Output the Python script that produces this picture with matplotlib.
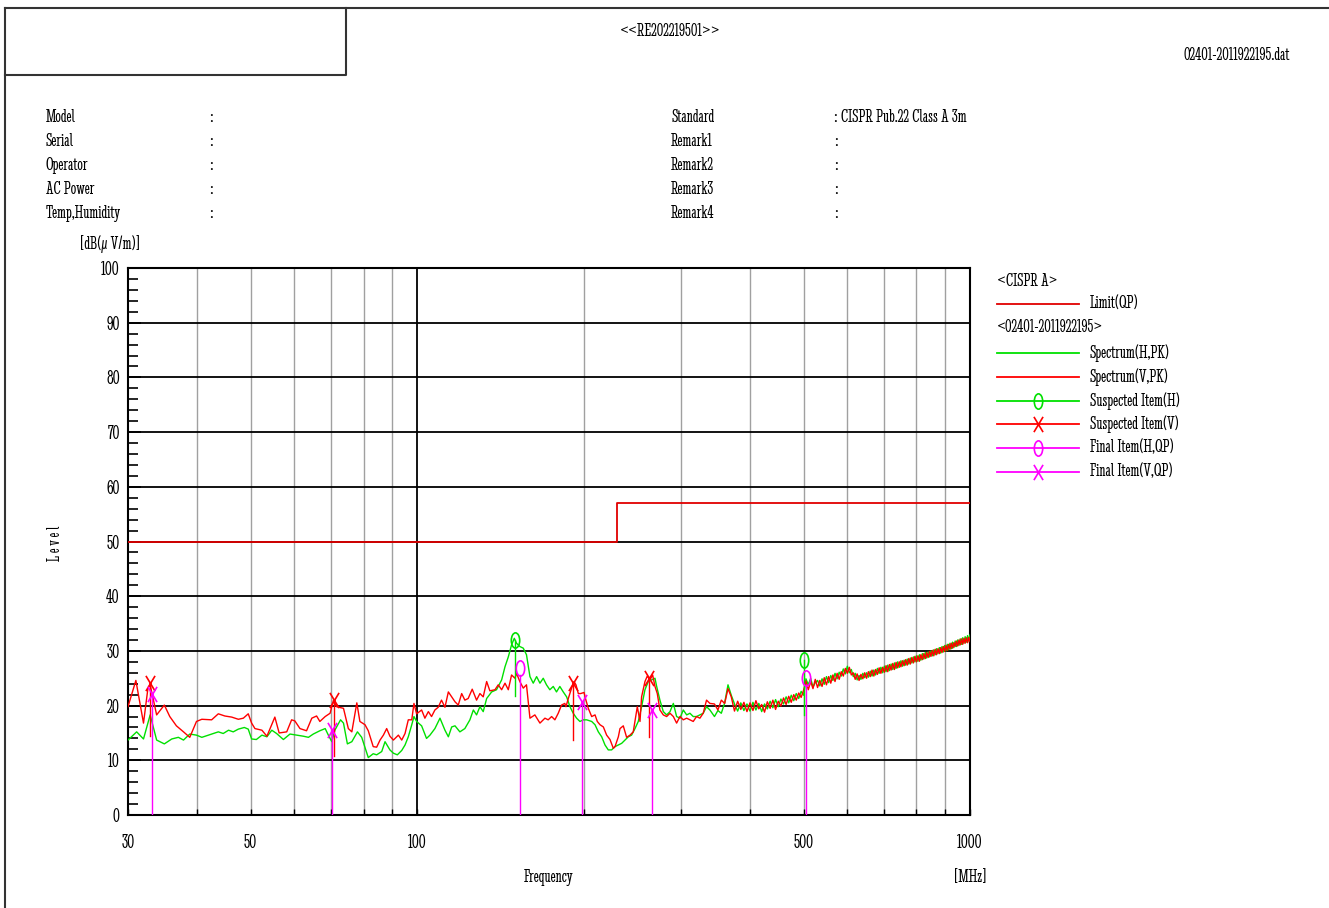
import matplotlib
matplotlib.use('Agg')
import matplotlib.pyplot as plt
from matplotlib.lines import Line2D
from matplotlib.path import Path
from matplotlib.transforms import Affine2D

FONT = ['Stint Ultra Condensed', 'PT Sans Narrow', 'DejaVu Sans']
plt.rcParams['font.family'] = FONT

W, H = 1329, 908

# ---- data ----
limit_freq = [30, 230, 230, 1000]
limit_level = [50, 50, 57, 57]

# below 340 MHz the two sweeps have their own sample points
v_lo_freq = [30.0, 31.0, 32.0, 32.6, 32.9, 33.8, 34.9, 35.7, 36.7, 37.8, 38.8, 39.9, 40.8, 42.5, 43.7,
             44.9, 46.2, 47.5, 48.5, 49.5, 50.2, 50.9, 52.4, 53.5, 55.3, 56.3, 58.1, 59.3, 60.1, 61.4,
             63.1, 64.5, 65.8, 66.7, 68.2, 69.6, 70.1, 70.6, 71.5, 73.6, 75.1, 76.2, 77.8, 78.8, 80.5,
             81.6, 83.3, 84.5, 85.7, 86.9, 88.1, 89.3, 90.6, 92.5, 93.8, 95.1, 96.4, 97.8, 98.7, 99.8,
             101.9, 103.3, 104.8, 106.2, 107.7, 109.2, 110.7, 112.3, 113.9, 115.5, 117.1, 118.7, 120.4,
             122.0, 123.7, 125.8, 128.1, 129.9, 131.7, 133.6, 135.4, 138.3, 140.2, 142.2, 144.2, 146.2,
             148.2, 150.3, 151.3, 153.4, 155.6, 157.7, 160.0, 163.3, 166.8, 170.3, 172.6, 175.1, 177.5,
             180.0, 182.5, 185.0, 185.9, 187.7, 190.3, 192.2, 193.8, 195.7, 197.6, 200.4, 202.0, 204.0,
             206.9, 209.8, 211.8, 214.2, 217.2, 220.2, 223.3, 226.4, 228.0, 231.2, 232.8, 236.0, 239.3,
             242.7, 246.0, 250.2, 253.0, 254.7, 258.3, 260.8, 263.7, 266.7, 269.3, 271.9, 274.9, 278.8,
             282.7, 286.7, 290.7, 294.7, 298.8, 303.0, 307.3, 311.5, 315.8, 320.2, 324.7, 329.2, 333.8,
             338.5]
v_lo_level = [19.8, 24.6, 16.8, 23.2, 23.8, 18.3, 20.1, 18.0, 16.3, 15.2, 14.2, 17.1, 17.5, 17.4, 18.5,
              18.1, 17.9, 17.5, 17.7, 18.5, 16.8, 15.8, 15.5, 14.4, 17.9, 15.0, 15.2, 17.4, 17.2, 15.8,
              15.4, 17.7, 18.1, 17.1, 18.0, 18.6, 19.8, 21.0, 19.8, 19.5, 15.8, 15.2, 20.5, 17.1, 16.5,
              15.4, 12.5, 12.4, 13.7, 14.6, 15.8, 14.4, 13.7, 14.6, 13.7, 14.9, 17.4, 17.4, 20.4, 18.5,
              19.2, 17.7, 18.9, 18.0, 19.2, 19.7, 21.0, 19.7, 22.5, 21.6, 20.7, 20.1, 22.2,
              21.0, 21.3, 23.0, 21.0, 22.2, 21.6, 24.4, 22.7, 22.9, 23.8, 22.9, 24.1, 22.9,
              25.6, 25.0, 25.9, 24.4, 23.2, 23.8, 17.7, 18.3, 16.8, 17.7, 17.4, 18.0, 17.4,
              18.6, 20.1, 20.4, 19.8, 21.3, 23.2, 24.4, 23.8, 22.2, 22.2, 22.4, 21.0, 19.5,
              18.0, 18.3, 17.1, 16.5, 16.1, 14.6, 13.8, 12.2, 12.5, 14.3, 15.8, 16.3, 14.2,
              14.6, 15.2, 19.8, 17.1, 21.6, 24.4, 25.4, 24.7, 25.6, 23.5, 22.2, 19.2, 18.3,
              18.0, 18.6, 18.0, 16.8, 18.0, 17.4, 17.7, 17.4, 17.1, 18.0, 17.7, 18.6, 21.0,
              20.4]

h_lo_freq = [30.0, 31.1, 32.0, 32.9, 33.8, 34.9, 36.0, 37.0, 37.8, 38.8, 39.9, 40.8, 42.5, 43.7, 44.6,
             45.6, 46.5, 47.5, 48.7, 49.5, 50.2, 51.2, 52.4, 53.5, 54.6, 55.7, 57.3, 58.9, 60.6, 62.3,
             63.6, 64.9, 66.7, 68.2, 69.1, 70.1, 71.0, 72.7, 73.6, 74.8, 76.2, 78.0, 79.4, 81.6, 83.3,
             84.5, 86.3, 87.5, 89.3, 90.6, 92.1, 93.8, 95.1, 96.4, 97.8, 98.7, 99.8, 101.9, 104.0, 105.5,
             107.7, 110.0, 112.3, 113.9, 115.5, 117.1, 119.5, 122.0, 124.6, 126.4, 128.1, 129.9, 131.7,
             133.6, 136.4, 139.2, 142.2, 144.2, 146.2, 148.2, 149.9, 151.3, 153.4, 155.6, 157.7, 160.0,
             162.2, 164.5, 166.8, 169.1, 171.4, 173.8, 176.3, 178.7, 181.2, 183.8, 186.4, 189.0, 191.6,
             194.3, 197.0, 199.8, 202.6, 206.9, 209.8, 212.7, 215.7, 218.7, 221.7, 224.8, 228.0, 231.2,
             234.4, 237.7, 241.0, 244.3, 247.8, 251.2, 254.7, 258.3, 261.9, 265.6, 269.3, 271.2, 274.9,
             278.8, 282.7, 286.7, 290.7, 294.7, 298.8, 303.0, 307.3, 311.5, 315.8, 320.2, 324.7, 329.2,
             333.8, 338.5]
h_lo_level = [13.7, 15.2, 13.9, 18.3, 13.7, 13.0, 13.9, 14.2, 13.7, 14.8, 14.6, 14.2, 14.8, 15.2, 14.9,
              15.5, 15.2, 15.7, 16.0, 15.7, 13.9, 13.8, 14.6, 14.3, 15.5, 14.9, 13.8, 14.8, 14.6, 14.4,
              14.2, 14.8, 15.4, 15.8, 14.6, 13.4, 15.5, 17.4, 16.8, 13.0, 13.4, 15.2, 14.2, 10.5, 11.2,
              11.0, 11.6, 13.4, 11.9, 11.3, 11.0, 11.8, 12.8, 14.3, 16.5, 18.0, 17.1, 16.3, 14.0, 14.6,
              15.8, 17.7, 15.5, 14.3, 16.1, 16.3, 15.2, 15.8, 17.4, 19.2, 18.3, 19.8, 18.9,
              21.3, 22.5, 22.9, 24.7, 27.1, 28.9, 31.1, 32.3, 31.4, 30.8, 30.5, 29.3, 25.3,
              24.1, 25.3, 24.1, 25.0, 23.8, 22.9, 23.5, 22.5, 23.5, 22.5, 21.6, 19.8, 18.6,
              17.7, 17.1, 17.4, 17.4, 17.1, 16.5, 15.2, 14.3, 12.8, 11.9, 11.9, 12.5, 12.8,
              13.1, 13.7, 14.3, 14.6, 15.8, 17.1, 19.8, 22.9, 24.4, 24.7, 25.0, 23.5, 21.0,
              18.9, 18.3, 18.9, 20.4, 18.0, 17.7, 19.2, 18.3, 18.6, 18.0, 18.0, 18.3, 18.6,
              19.8, 19.2]

# above 340 MHz both sweeps share the 5 MHz step
hi_freq = [345, 350, 355, 360, 365, 370, 375, 380, 385, 390, 395, 400, 405, 410, 415, 420, 425, 430,
           435, 440, 445, 450, 455, 460, 465, 470, 475, 480, 485, 490, 495, 500, 505, 510, 515, 520,
           525, 530, 535, 540, 545, 550, 555, 560, 565, 570, 575, 580, 585, 590, 595, 600, 605, 610,
           615, 620, 625, 630, 635, 640, 645, 650, 655, 660, 665, 670, 675, 680, 685, 690, 695, 700,
           705, 710, 715, 720, 725, 730, 735, 740, 745, 750, 755, 760, 765, 770, 775, 780, 785, 790,
           795, 800, 805, 810, 815, 820, 825, 830, 835, 840, 845, 850, 855, 860, 865, 870, 875, 880,
           885, 890, 895, 900, 905, 910, 915, 920, 925, 930, 935, 940, 945, 950, 955, 960, 965, 970,
           975, 980, 985, 990, 995, 1000]
v_hi_level = [20.3, 19.2, 21.0, 20.4, 23.1, 21.6, 19.0, 20.8, 19.3, 20.6, 18.9, 20.5, 19.1, 20.9, 19.4,
              20.2, 18.8, 20.7, 19.5, 21.0, 19.3, 20.8, 19.9, 21.4, 20.2, 21.7, 20.6, 22.0, 21.0, 22.3,
              21.5, 22.8, 24.5, 22.9, 24.4, 23.1, 24.8, 23.3, 24.6, 23.5, 25.1, 23.8, 25.3, 24.1, 25.6,
              24.4, 25.9, 24.8, 26.2, 25.4, 26.8, 25.9, 27.0, 25.6, 26.0, 24.8, 25.8, 24.6, 25.7, 24.9,
              26.0, 25.0, 26.2, 25.3, 26.5, 25.4, 26.6, 25.7, 26.9, 25.9, 27.0, 26.1, 27.3, 26.2, 27.5,
              26.5, 27.7, 26.6, 27.9, 26.9, 28.0, 27.1, 28.2, 27.3, 28.4, 27.4, 28.6, 27.6, 28.8, 27.8,
              29.0, 28.0, 29.1, 28.1, 29.3, 28.4, 29.5, 28.6, 29.7, 28.8, 29.9, 29.0, 30.1, 29.1, 30.3,
              29.3, 30.4, 29.5, 30.6, 29.7, 30.8, 29.9, 31.0, 30.1, 31.2, 30.3, 31.4, 30.5, 31.5, 30.8,
              31.8, 30.9, 32.0, 31.1, 32.2, 31.2, 32.3, 31.4, 32.4, 31.5, 32.5, 31.7]
h_hi_level = [18.0, 19.1, 18.6, 20.5, 23.8, 21.9, 20.3, 19.0, 20.5, 19.1, 20.3, 19.0, 20.6, 19.2, 20.4,
              18.9, 20.3, 19.4, 20.8, 19.6, 21.1, 19.8, 21.2, 20.3, 21.6, 20.5, 21.9, 20.9, 22.2, 21.3,
              22.6, 21.9, 24.9, 23.8, 25.0, 23.4, 24.2, 24.6, 23.6, 24.9, 23.9, 25.3, 24.2, 25.5, 24.6,
              25.9, 24.9, 26.1, 25.4, 26.7, 25.8, 27.2, 26.0, 26.6, 25.3, 25.9, 24.7, 25.5, 24.8, 25.9,
              25.1, 26.0, 25.2, 26.3, 25.4, 26.5, 25.6, 26.8, 25.9, 27.0, 26.0, 27.2, 26.2, 27.4, 26.4,
              27.6, 26.6, 27.8, 26.8, 28.0, 27.0, 28.2, 27.2, 28.3, 27.4, 28.5, 27.6, 28.7, 27.8, 28.9,
              28.0, 29.1, 28.1, 29.3, 28.3, 29.5, 28.5, 29.7, 28.7, 29.8, 28.9, 30.0, 29.1, 30.2, 29.3,
              30.4, 29.5, 30.6, 29.6, 30.8, 29.8, 31.0, 30.0, 31.2, 30.2, 31.4, 30.4, 31.6, 30.6, 31.8,
              30.8, 32.0, 31.0, 32.2, 31.2, 32.4, 31.4, 32.6, 31.6, 32.8, 31.8, 32.9]

susp_h_freq = [150.4, 501]
susp_h_level = [32.0, 28.3]
susp_h_low = [21.8, 18.3]
susp_v_freq = [32.9, 70.6, 191.4, 262.7]
susp_v_level = [24.1, 21.1, 24.1, 25.0]
susp_v_low = [14.5, 10.7, 13.7, 14.3]
final_h_freq = [153.5, 505]
final_h_level = [26.9, 25.1]
final_v_freq = [33.2, 70.2, 198.7, 266.0]
final_v_level = [22.2, 15.5, 20.7, 19.2]

grid_freqs = [40, 50, 60, 70, 80, 90, 200, 300, 400, 500, 600, 700, 800, 900]
xtick_vals = [30, 50, 100, 500, 1000]

info_left = ['Model', 'Serial', 'Operator', 'AC Power', 'Temp,Humidity']
info_right = ['Standard', 'Remark1', 'Remark2', 'Remark3', 'Remark4']
info_right_val = ['CISPR Pub.22 Class A 3m', '', '', '', '']

GREEN = '#00e000'
RED = '#ff0000'
MAG = '#ff00ff'

ellipse = Path.unit_circle().transformed(Affine2D().scale(0.55, 1.0))
cross = Path([(-0.6, -1), (0.6, 1), (-0.6, 1), (0.6, -1)],
             [Path.MOVETO, Path.LINETO, Path.MOVETO, Path.LINETO])


def fx(px):
    return px / W


def fy(py):
    return 1 - py / H


fig = plt.figure(figsize=(W / 100, H / 100), dpi=100)
ax = fig.add_axes([fx(128), fy(815), fx(970) - fx(128), fy(268) - fy(815)])
ax.set_xscale('log')
ax.set_xlim(30, 1000)
ax.set_ylim(0, 100)

# grid
for f in grid_freqs:
    ax.axvline(f, color='#a0a0a0', lw=1.0, zorder=1)
ax.axvline(100, color='black', lw=1.3, zorder=1)
for lv in range(10, 100, 10):
    ax.axhline(lv, color='black', lw=1.3, zorder=1)

# traces
ax.plot(h_lo_freq + hi_freq, h_lo_level + h_hi_level, color=GREEN, lw=1.0, zorder=3)
ax.plot(v_lo_freq + hi_freq, v_lo_level + v_hi_level, color=RED, lw=1.0, zorder=4)
ax.plot(limit_freq, limit_level, color='#e00000', lw=1.3, zorder=4)

# suspected items
for f, lv, lo in zip(susp_h_freq, susp_h_level, susp_h_low):
    ax.plot([f, f], [lo, lv], color=GREEN, lw=1.0, zorder=5)
ax.plot(susp_h_freq, susp_h_level, ls='none', marker=ellipse, ms=11, mfc='none',
        mec=GREEN, mew=1.2, zorder=6)
for f, lv, lo in zip(susp_v_freq, susp_v_level, susp_v_low):
    ax.plot([f, f], [lo, lv], color=RED, lw=1.0, zorder=5)
ax.plot(susp_v_freq, susp_v_level, ls='none', marker=cross, ms=11, mec=RED, mew=1.2, zorder=6)

# final items
for f, lv in zip(final_h_freq, final_h_level):
    ax.plot([f, f], [0, lv - 1.3], color=MAG, lw=1.0, zorder=5)
ax.plot(final_h_freq, final_h_level, ls='none', marker=ellipse, ms=11, mfc='none',
        mec=MAG, mew=1.2, zorder=6)
for f, lv in zip(final_v_freq, final_v_level):
    ax.plot([f, f], [0, lv], color=MAG, lw=1.0, zorder=5)
ax.plot(final_v_freq, final_v_level, ls='none', marker=cross, ms=11, mec=MAG, mew=1.2, zorder=6)

# axes styling
for s in ax.spines.values():
    s.set_linewidth(1.5)
ax.set_yticks(range(0, 101, 10))
ax.set_yticks(range(0, 101, 2), minor=True)
ax.set_xticks(xtick_vals)
ax.set_xticklabels([str(v) for v in xtick_vals])
ax.set_xticks(grid_freqs, minor=True)
ax.xaxis.set_minor_formatter(plt.NullFormatter())
ax.tick_params(axis='y', which='major', direction='in', length=9, width=1.3, labelsize=15, pad=6)
ax.tick_params(axis='y', which='minor', direction='in', length=7, width=1.2)
ax.tick_params(axis='x', which='both', direction='in', length=4, width=1.0, labelsize=15, pad=14)

# headings and info block
fig.text(fx(670), fy(32), '<<RE202219501>>', ha='center', va='center', fontsize=14)
fig.text(fx(1237), fy(55), '02401-2011922195.dat', ha='center', va='center', fontsize=14)
for i, (a, b, c) in enumerate(zip(info_left, info_right, info_right_val)):
    y = fy(117 + 24 * i)
    fig.text(fx(46), y, a, ha='left', va='center', fontsize=14)
    fig.text(fx(209), y, ':', ha='left', va='center', fontsize=14)
    fig.text(fx(671), y, b, ha='left', va='center', fontsize=14)
    fig.text(fx(834), y, ':' + (' ' + c if c else ''), ha='left', va='center', fontsize=14)

fig.text(fx(110), fy(244), '[dB(μ V/m)]', ha='center', va='center', fontsize=14)
fig.text(fx(55), fy(543), 'L e v e l', ha='center', va='center', rotation=90, fontsize=13)
fig.text(fx(548), fy(878), 'Frequency', ha='center', va='center', fontsize=14)
fig.text(fx(970), fy(878), '[MHz]', ha='center', va='center', fontsize=14)

# page frame
fig.add_artist(Line2D([fx(5), 1], [fy(8), fy(8)], color='#333333', lw=1.5))
fig.add_artist(Line2D([fx(5), fx(5)], [fy(8), 0], color='#333333', lw=1.5))
fig.add_artist(Line2D([fx(5), fx(346), fx(346)], [fy(75), fy(75), fy(8)], color='#333333', lw=1.5))

# legend
fig.text(fx(997), fy(281), '<CISPR A>', ha='left', va='center', fontsize=14)
fig.text(fx(997), fy(328), '<02401-2011922195>', ha='left', va='center', fontsize=14)
legend_rows = [
    (304, '#e00000', None, 'Limit(QP)'),
    (353, GREEN, None, 'Spectrum(H,PK)'),
    (377, RED, None, 'Spectrum(V,PK)'),
    (401, GREEN, ellipse, 'Suspected Item(H)'),
    (424, RED, cross, 'Suspected Item(V)'),
    (448, MAG, ellipse, 'Final Item(H,QP)'),
    (472, MAG, cross, 'Final Item(V,QP)'),
]
for py, col, mk, lab in legend_rows:
    fig.add_artist(Line2D([fx(997), fx(1079)], [fy(py), fy(py)], color=col, lw=1.3))
    if mk is not None:
        fig.add_artist(Line2D([fx(1038)], [fy(py)], ls='none', marker=mk, ms=11,
                              mfc='none', mec=col, mew=1.2))
    fig.text(fx(1090), fy(py), lab, ha='left', va='center', fontsize=14)

fig.savefig('out.png', dpi=100)
